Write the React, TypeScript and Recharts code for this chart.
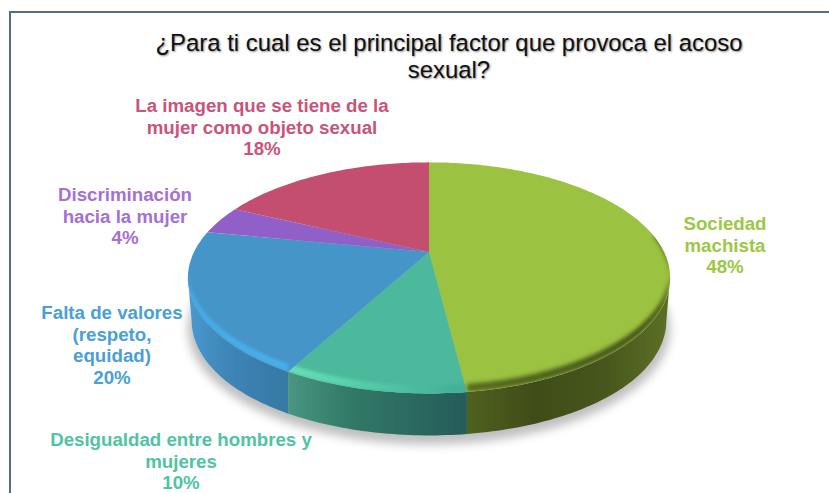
import React from "react";
import { PieChart, Pie } from "recharts";

const categories = [
  "Sociedad machista",
  "Desigualdad entre hombres y mujeres",
  "Falta de valores (respeto, equidad)",
  "Discriminación hacia la mujer",
  "La imagen que se tiene de la mujer como objeto sexual",
];
const shares = [48, 10, 20, 4, 18];
const wholePie = [100];

const labelLines = [
  ["Sociedad", "machista"],
  ["Desigualdad entre hombres y", "mujeres"],
  ["Falta de valores", "(respeto,", "equidad)"],
  ["Discriminación", "hacia la mujer"],
  ["La imagen que se tiene de la", "mujer como objeto sexual"],
];
const titleLines = ["¿Para ti cual es el principal factor que provoca el acoso", "sexual?"];

const faceColors = ["#9bc241", "#4cb89c", "#4695c9", "#9060c8", "#c44e6f"];
const labelColors = ["#9bc845", "#4fc3a3", "#4a9fd8", "#a56fd6", "#c9537a"];
const wallStops = [
  ["#50611f", "#3f4c18", "#46561c", "#5c7024"],
  ["#4a9682", "#327a68", "#2b6b60", "#245c5a"],
  ["#4a9ad0", "#3f88ba", "#3a7fae", "#357aa3"],
];
const bevelStops = [
  ["#55681f", "#3f4c18"],
  ["#66e0b8", "#3fae94"],
  ["#45ace8", "#48aee8"],
];
// where each label block sits, [centre x, first line y]
const labelAnchors = [
  [725, 230],
  [181, 446],
  [112, 319],
  [125, 201],
  [262, 112],
];

const TILT = 0.467; // vertical squash of the disc
const PERSPECTIVE = 0.224; // front is nearer than back
const DEPTH = 42;
const BEVEL = 8;

const rad = (deg: number) => (deg * Math.PI) / 180;

// pie angle -> point on the rim, seen in perspective
function rim(cx: number, cy: number, r: number, angle: number) {
  const u = Math.cos(rad(angle));
  const v = -Math.sin(rad(angle));
  const w = 1 - PERSPECTIVE * v;
  return { x: cx + (r * u) / w, y: cy + (r * TILT * v) / w };
}

function sweep(start: number, end: number) {
  const n = Math.max(2, Math.ceil(Math.abs(start - end)));
  return Array.from({ length: n + 1 }, (_, i) => start + ((end - start) * i) / n);
}

const pathOf = (pts: { x: number; y: number }[]) =>
  "M" + pts.map((p) => `${p.x.toFixed(1)},${p.y.toFixed(1)}`).join("L") + "Z";

function Slice(props: any) {
  const { cx, cy, outerRadius: r, startAngle, endAngle, name } = props;
  const i = categories.indexOf(name);
  const edge = sweep(startAngle, endAngle).map((a) => rim(cx, cy, r, a));
  const facePath = pathOf([{ x: cx, y: cy }, ...edge]);

  const from = Math.min(startAngle, -13);
  const to = Math.max(endAngle, -167);
  const hasWall = from > to && i < wallStops.length;
  let wallPath = "";
  let bevelPath = "";
  if (hasWall) {
    const top = sweep(from, to).map((a) => rim(cx, cy, r, a));
    // the foot of the wall pulls in only towards the far left and right
    const bottom = top
      .map((p) => {
        const s = (p.x - cx) / r;
        return { x: cx + (p.x - cx) * (1 - 0.014 * s * s * s * s), y: p.y + DEPTH };
      })
      .reverse();
    wallPath = pathOf([...top, ...bottom]);
    const lifted = sweep(Math.min(startAngle, 8), to).map((a) => rim(cx, cy, r, a));
    bevelPath = pathOf([
      ...lifted,
      ...lifted.map((p) => ({ x: p.x, y: p.y - BEVEL })).reverse(),
    ]);
  }

  return (
    <g>
      {hasWall && (
        <defs>
          <linearGradient id={`wall-${i}`} x1="0" x2="1" y1="0" y2="0">
            {wallStops[i].map((c, k) => (
              <stop key={k} offset={k / 3} stopColor={c} />
            ))}
          </linearGradient>
          <linearGradient id={`bevel-${i}`} x1="0" x2="1" y1="0" y2="0">
            {bevelStops[i].map((c, k) => (
              <stop key={k} offset={k} stopColor={c} />
            ))}
          </linearGradient>
          <clipPath id={`clip-${i}`}>
            <path d={facePath} />
          </clipPath>
          <filter id={`soft-${i}`} x="-10%" y="-30%" width="120%" height="160%">
            <feGaussianBlur stdDeviation={i === 0 ? 2 : 1.4} />
          </filter>
        </defs>
      )}
      {hasWall && <path d={wallPath} fill={`url(#wall-${i})`} />}
      <path d={facePath} fill={faceColors[i]} />
      {hasWall && (
        <g clipPath={`url(#clip-${i})`}>
          <path d={bevelPath} fill={`url(#bevel-${i})`} filter={`url(#soft-${i})`} />
        </g>
      )}
    </g>
  );
}

function ShadowDisc(props: any) {
  const { cx, cy, outerRadius: r } = props;
  const pts = sweep(0, 360).map((a) => {
    const p = rim(cx, cy, r, a);
    return { x: p.x, y: p.y + DEPTH + 9 };
  });
  return (
    <g>
      <defs>
        <filter id="disc-shadow" x="-10%" y="-20%" width="120%" height="140%">
          <feGaussianBlur stdDeviation="5" />
        </filter>
      </defs>
      <path d={pathOf(pts)} fill="#000" fillOpacity={0.25} filter="url(#disc-shadow)" />
    </g>
  );
}

function renderLabel(props: any) {
  const i = props.index;
  const [x, y] = labelAnchors[i];
  const lines = [...labelLines[i], `${shares[i]}%`];
  return (
    <text
      key={i}
      x={x}
      y={y}
      textAnchor="middle"
      fill={labelColors[i]}
      fontFamily="'Liberation Sans', Arial, sans-serif"
      fontSize={18.7}
      fontWeight={700}
    >
      {lines.map((line, k) => (
        <tspan key={k} x={x} dy={k === 0 ? 0 : 21.6}>
          {line}
        </tspan>
      ))}
    </text>
  );
}

export default function App() {
  const table = categories.map((name, i) => ({ name, value: shares[i] }));
  const base = wholePie.map((value) => ({ name: "base", value }));
  return (
    <div style={{ position: "absolute", left: 0, top: 0, width: 829, height: 493, background: "#fff", overflow: "hidden" }}>
      <div style={{ position: "absolute", left: 9, top: 11, width: 830, height: 500, borderTop: "2px solid #5b6b85", borderLeft: "2px solid #5b6b85" }} />
      <div
        style={{
          position: "absolute",
          left: 80,
          top: 28.5,
          width: 738,
          textAlign: "center",
          fontFamily: "'Liberation Sans', Arial, sans-serif",
          fontSize: 23.9,
          lineHeight: "27px",
          color: "#111",
          textShadow: "1px 1px 2px rgba(0,0,0,0.45)",
        }}
      >
        {titleLines.map((t) => (
          <div key={t}>{t}</div>
        ))}
      </div>
      <div style={{ position: "absolute", left: 0, top: 0 }}>
        <PieChart width={829} height={493} margin={{ top: 0, right: 0, bottom: 0, left: 0 }}>
          <Pie
            data={base}
            dataKey="value"
            nameKey="name"
            cx={429}
            cy={252}
            outerRadius={235}
            startAngle={90}
            endAngle={-270}
            stroke="none"
            shape={ShadowDisc}
            isAnimationActive={false}
          />
          <Pie
            data={table}
            dataKey="value"
            nameKey="name"
            cx={429}
            cy={252}
            outerRadius={235}
            startAngle={90}
            endAngle={-270}
            stroke="none"
            shape={Slice}
            label={renderLabel}
            labelLine={false}
            isAnimationActive={false}
          />
        </PieChart>
      </div>
    </div>
  );
}
